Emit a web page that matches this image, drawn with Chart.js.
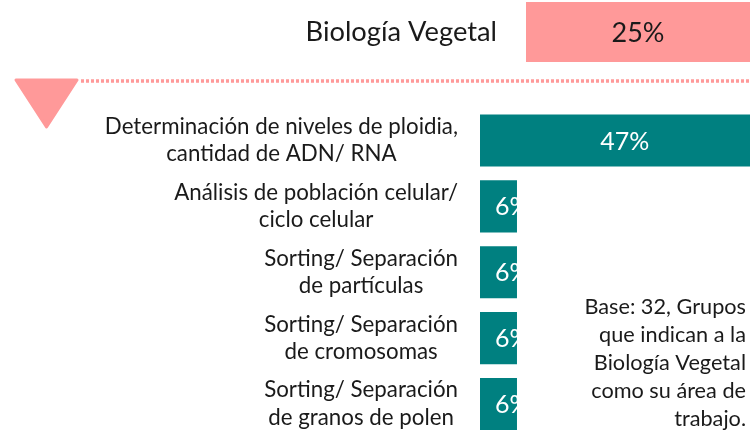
<!DOCTYPE html>
<html>
<head>
<meta charset="utf-8">
<script src="https://cdn.jsdelivr.net/npm/chart.js@4.4.1/dist/chart.umd.min.js"></script>
<style>
  html, body { margin: 0; padding: 0; background: #ffffff; }
  #wrap { position: relative; width: 750px; height: 437px; overflow: hidden; }
  canvas { position: absolute; left: 0; top: 0; }
</style>
</head>
<body>
<div id="wrap">
  <canvas id="main" width="750" height="437"></canvas>
  <canvas id="head" width="750" height="64"></canvas>
</div>
<script>
// ---- data ----
const headerCategory = ["Biología Vegetal"];
const headerValues = [25];
const categories = [
  ["Determinación de niveles de ploidia,", "cantidad de ADN/ RNA"],
  ["Análisis de población celular/", "ciclo celular"],
  ["Sorting/ Separación", "de partículas"],
  ["Sorting/ Separación", "de cromosomas"],
  ["Sorting/ Separación", "de granos de polen"]
];
const values = [47, 6, 6, 6, 6];
const noteLines = ["Base: 32, Grupos", "que indican a la", "Biología Vegetal", "como su área de", "trabajo."];

// ---- styles ----
const FONT = "Lato, 'Open Sans', sans-serif";
const PINK = "#FF9999";
const TEAL = "#008080";
const TEXT = "#1a1a1a";

function drawValueLabel(ctx, el, text, color, size, minOffset) {
  const p = el.getProps(['x', 'y', 'base', 'height'], true);
  const left = Math.min(p.base, p.x), right = Math.max(p.base, p.x);
  ctx.save();
  ctx.beginPath();
  ctx.rect(left, p.y - p.height / 2, right - left, p.height);
  ctx.clip();
  ctx.font = size + "px " + FONT;
  ctx.fillStyle = color;
  ctx.textBaseline = "middle";
  ctx.textAlign = "left";
  const tw = ctx.measureText(text).width;
  let tx = (left + right) / 2 - tw / 2;
  if (tx < left + minOffset) tx = left + minOffset;
  ctx.fillText(text, tx, p.y + 1);
  ctx.restore();
}

// ---- header chart ----
const headPlugin = {
  id: 'headPlugin',
  afterDatasetsDraw(chart) {
    const ctx = chart.ctx;
    const meta = chart.getDatasetMeta(0);
    const ys = chart.scales.y;
    ctx.save();
    ctx.font = "27.3px " + FONT;
    ctx.fillStyle = TEXT;
    ctx.textAlign = "right";
    ctx.textBaseline = "middle";
    chart.data.labels.forEach((lab, i) => {
      ctx.fillText(lab, 497, ys.getPixelForValue(i));
    });
    ctx.restore();
    meta.data.forEach((el, i) => {
      drawValueLabel(ctx, el, chart.data.datasets[0].data[i] + "%", TEXT, 27, 0);
    });
  }
};

new Chart(document.getElementById('head'), {
  type: 'bar',
  data: {
    labels: headerCategory,
    datasets: [{ data: headerValues, backgroundColor: PINK, borderWidth: 0,
                 barPercentage: 1, categoryPercentage: 1 }]
  },
  options: {
    indexAxis: 'y',
    responsive: false,
    animation: false,
    layout: { padding: { left: 526, right: 0, top: 2, bottom: 2 } },
    plugins: { legend: { display: false }, tooltip: { enabled: false } },
    scales: {
      x: { display: false, min: 0, max: 25 },
      y: { display: false }
    }
  },
  plugins: [headPlugin]
});

// ---- main chart ----
const mainPlugin = {
  id: 'mainPlugin',
  beforeDatasetsDraw(chart) {
    const ctx = chart.ctx;
    ctx.save();
    // triangle marker
    ctx.fillStyle = PINK;
    ctx.strokeStyle = PINK;
    ctx.lineJoin = "round";
    ctx.lineWidth = 3;
    ctx.beginPath();
    ctx.moveTo(16, 80);
    ctx.lineTo(77, 80);
    ctx.lineTo(46.5, 127);
    ctx.closePath();
    ctx.fill();
    ctx.stroke();
    // dotted separator
    ctx.setLineDash([3, 2]);
    ctx.lineWidth = 3.5;
    ctx.lineCap = "butt";
    ctx.beginPath();
    ctx.moveTo(81, 81);
    ctx.lineTo(750, 81);
    ctx.stroke();
    ctx.restore();
  },
  afterDatasetsDraw(chart) {
    const ctx = chart.ctx;
    const ys = chart.scales.y;
    // category labels (centered lines, block right-aligned)
    ctx.save();
    ctx.font = "22.3px " + FONT;
    ctx.fillStyle = TEXT;
    ctx.textAlign = "center";
    ctx.textBaseline = "middle";
    const lineH = 27.5;
    chart.data.labels.forEach((lines, i) => {
      const y = ys.getPixelForValue(i);
      const maxW = Math.max(...lines.map(l => ctx.measureText(l).width));
      const cx = 458 - maxW / 2;
      const y0 = y - (lines.length - 1) * lineH / 2;
      lines.forEach((l, k) => ctx.fillText(l, cx, y0 + k * lineH));
    });
    ctx.restore();
    // value labels
    const meta = chart.getDatasetMeta(0);
    meta.data.forEach((el, i) => {
      drawValueLabel(ctx, el, chart.data.datasets[0].data[i] + "%", "#ffffff", 25, 15);
    });
    // note
    ctx.save();
    ctx.font = "21.7px " + FONT;
    ctx.fillStyle = TEXT;
    ctx.textAlign = "right";
    ctx.textBaseline = "middle";
    noteLines.forEach((l, k) => ctx.fillText(l, 746, 307 + k * 28));
    ctx.restore();
  }
};

new Chart(document.getElementById('main'), {
  type: 'bar',
  data: {
    labels: categories,
    datasets: [{ data: values, backgroundColor: TEAL, borderWidth: 0,
                 barPercentage: 0.79, categoryPercentage: 1 }]
  },
  options: {
    indexAxis: 'y',
    responsive: false,
    animation: false,
    layout: { padding: { left: 480, right: 0, top: 107.5, bottom: 0 } },
    plugins: { legend: { display: false }, tooltip: { enabled: false } },
    scales: {
      x: { display: false, min: 0, max: 43.8 },
      y: { display: false }
    }
  },
  plugins: [mainPlugin]
});
</script>
</body>
</html>
